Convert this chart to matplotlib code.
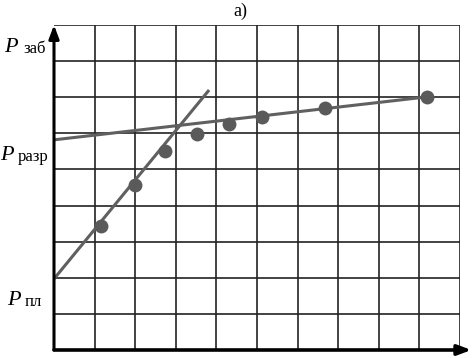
import matplotlib
matplotlib.use("Agg")
import matplotlib.pyplot as plt
import numpy as np

# data (grid units)
pts_x = [1.16, 2.0, 2.73, 3.52, 4.31, 5.12, 6.67, 9.19]
pts_y = [3.43, 4.57, 5.51, 5.98, 6.26, 6.45, 6.70, 7.01]
steep_x = [0.0, 3.82]
steep_y = [1.97, 7.2]
flat_x = [0.0, 9.19]
flat_y = [5.82, 7.01]
labels = ["заб", "разр", "пл"]
title = "а)"

plt.rcParams['font.family'] = ['Liberation Serif', 'DejaVu Serif']

W, H = 477, 358
fig = plt.figure(figsize=(W / 100, H / 100), dpi=100)
ax = fig.add_axes([54/W, 8/H, (460-54)/W, (350-25)/H])
ax.set_xlim(0, 10)
ax.set_ylim(0, 9)

for x in range(1, 11):
    ax.axvline(x, color='#222222', lw=1.2, zorder=1)
for y in range(1, 10):
    ax.axhline(y, color='#222222', lw=1.2, zorder=1)

ax.plot(steep_x, steep_y, color='#606060', lw=2.2, zorder=2, solid_capstyle='butt')
ax.plot(flat_x, flat_y, color='#606060', lw=2.2, zorder=2, solid_capstyle='butt')
ax.plot(pts_x, pts_y, 'o', color='#5a5a5a', ms=10, zorder=3, mec='none')

for s in ax.spines.values():
    s.set_visible(False)
ax.set_xticks([])
ax.set_yticks([])

# axes arrows
ax.annotate('', xy=(0, 1.0), xytext=(0, 0), xycoords='axes fraction',
            arrowprops=dict(arrowstyle='-|>,head_length=0.8,head_width=0.3', color='black', lw=2.2,
                            shrinkA=0, shrinkB=0), annotation_clip=False)
ax.annotate('', xy=(1.028, 0), xytext=(0, 0), xycoords='axes fraction',
            arrowprops=dict(arrowstyle='-|>,head_length=0.8,head_width=0.3', color='black', lw=2.6,
                            shrinkA=0, shrinkB=0), annotation_clip=False)

# label layout in pixels: (P left, sub left, baseline)
label_pos = [(4, 23, 52), (0, 18, 160), (7, 25, 305)]
for lab, (px, sx, by) in zip(labels, label_pos):
    fig.text(px / W, 1 - by / H, "P", style='italic', fontsize=16, ha='left', va='baseline')
    fig.text(sx / W, 1 - (by + 1) / H, lab, fontsize=12, ha='left', va='baseline')

fig.text(240/W, 1 - 11/H, title, fontsize=13, ha='center', va='center')

fig.savefig('out.png', dpi=100)
